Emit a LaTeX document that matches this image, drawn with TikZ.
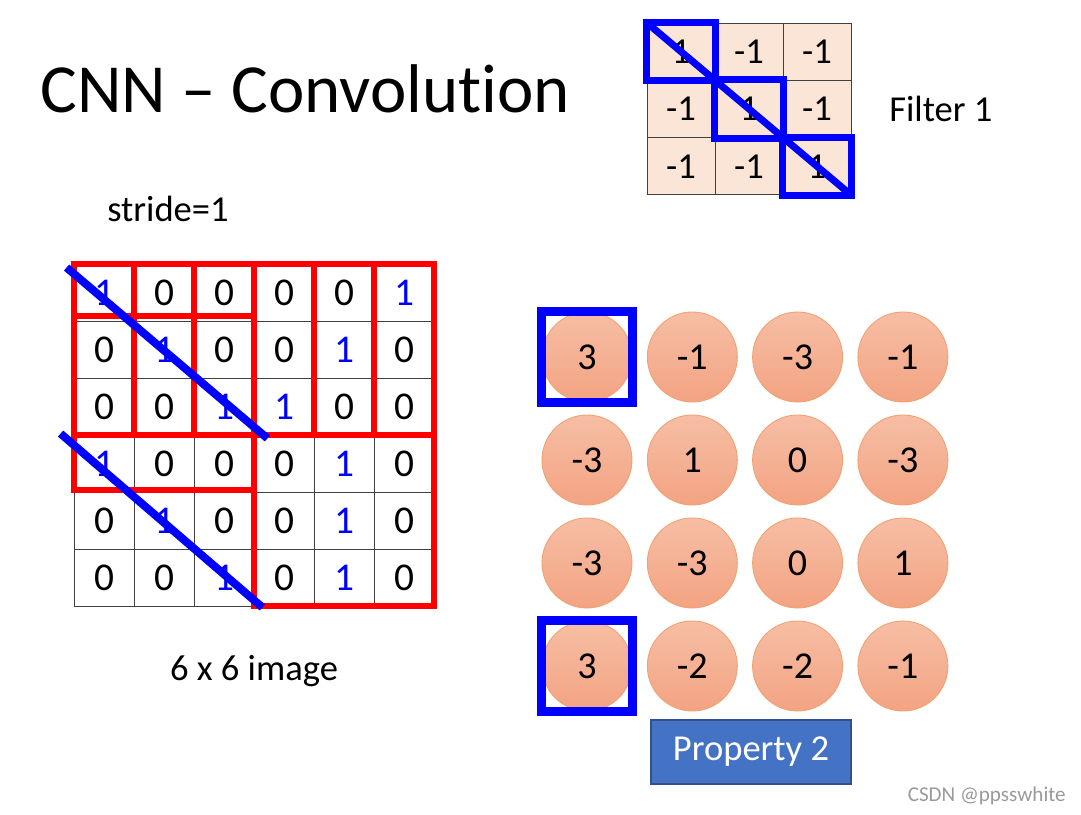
\documentclass[tikz,border=0pt]{standalone}
\usepackage{fontspec}
\setmainfont{Carlito}[Ligatures=NoCommon]
\usetikzlibrary{positioning}
\definecolor{peach}{HTML}{FBE5D6}
\definecolor{grid}{HTML}{404040}
\definecolor{pen}{HTML}{0000FF}
\definecolor{hot}{HTML}{FF0000}
\definecolor{coraltop}{HTML}{F6BEA5}
\definecolor{coralbot}{HTML}{F3A382}
\definecolor{ring}{HTML}{F2A06E}
\definecolor{propfill}{HTML}{4472C4}
\definecolor{propedge}{HTML}{2F528F}
\definecolor{credit}{HTML}{9A9A9A}

\begin{document}
\begin{tikzpicture}[x=0.025cm, y=-0.025cm,
    txt/.style={inner sep=0pt, font=\fontsize{26}{28}\selectfont},
    cell/.style={draw=grid, line width=0.6pt, minimum width=1.5cm, minimum height=1.425cm,
      inner sep=0pt, font=\fontsize{28}{30}\selectfont},
    fcell/.style={cell, fill=peach, minimum width=1.7cm, minimum height=1.433cm,
      font=\fontsize{26}{28}\selectfont},
    win/.style={draw=hot, line width=4.3pt},
    diag/.style={draw=pen, line width=5.7pt},
    fpick/.style={draw=pen, line width=5pt},
    outcell/.style={circle, minimum size=2.25cm, inner sep=0pt, draw=ring, line width=0.6pt,
      top color=coraltop, bottom color=coralbot, font=\fontsize{27}{29}\selectfont},
    pickbox/.style={draw=pen, line width=6.7pt, minimum size=2.27cm, inner sep=0pt},
    propbox/.style={draw=propedge, line width=0.8pt, fill=propfill, text=white,
      minimum width=5cm, minimum height=1.6cm, font=\fontsize{26}{28}\selectfont}]
    \useasboundingbox (0,0) rectangle (1081,815);
    \node[anchor=base west, inner sep=0pt, font=\fontsize{49}{52}\selectfont] (title) at (40,112) {CNN – Convolution};
    % filter
    \foreach \row [count=\r from 1] in {{1,-1,-1},{-1,1,-1},{-1,-1,1}}
      \foreach \v [count=\c from 1] in \row
        \node[fcell] (f-\r-\c) at (613+68*\c, -5.65+57.3*\r) {\v};
    \node[txt, anchor=base west] (flabel) at (889,121) {Filter 1};
    \draw[fpick] (f-1-1.north west) rectangle (f-1-1.south east);
    \draw[fpick] (f-2-2.north west) rectangle (f-2-2.south east);
    \draw[fpick] (f-3-3.north west) rectangle (f-3-3.south east);
    \draw[fpick] (f-1-1.north west) -- (f-3-3.south east);
    % image
    \node[txt, anchor=base west] (stride) at (107,221) {stride=1};
    \foreach \row [count=\r from 0] in {{1,0,0,0,0,1},{0,1,0,0,1,0},{0,0,1,1,0,0},
        {1,0,0,0,1,0},{0,1,0,0,1,0},{0,0,1,0,1,0}}
      \foreach \v [count=\c from 0] in \row {
        \ifnum\v=1 \def\ink{blue}\else\def\ink{black}\fi
        \node[cell, text=\ink] (img-\r-\c) at (104+60*\c, 292.5+57*\r) {\v};
      }
    \draw[win] (img-0-0.north west) rectangle (img-2-2.south east);
    \draw[win] (img-0-1.north west) rectangle (img-2-3.south east);
    \draw[win] (img-0-2.north west) rectangle (img-2-4.south east);
    \draw[win] (img-0-3.north west) rectangle (img-2-5.south east);
    \draw[win] ([yshift=3.5pt]img-1-0.north west) rectangle ([yshift=2pt]img-3-2.south east);
    \draw[win] (img-3-3.north west) rectangle (img-5-5.south east);
    \draw[diag] ([shift={(-7,4)}]img-0-0.north west) -- ([shift={(13,3)}]img-2-2.south east);
    \draw[diag] ([shift={(-13,-1)}]img-3-0.north west) -- ([shift={(8,1)}]img-5-2.south east);
    \node[txt, anchor=base] (imgcap) at (254,680) {6 x 6 image};
    % feature map
    \foreach \row [count=\r from 0] in {{3,-1,-3,-1},{-3,1,0,-3},{-3,-3,0,1},{3,-2,-2,-1}}
      \foreach \v [count=\c from 0] in \row
        \node[outcell] (out-\r-\c) at (587+105.3*\c, 357+103*\r) {\v};
    \node[pickbox] (pick-a) at (out-0-0) {};
    \node[pickbox] (pick-b) at (out-3-0) {};
    \node[propbox] (prop) at (751,752) {Property 2};
    \node[anchor=base east, inner sep=0pt, text=credit, font=\fontsize{15}{16}\selectfont] (credit) at (1066,801) {CSDN @ppsswhite};
\end{tikzpicture}
\end{document}
